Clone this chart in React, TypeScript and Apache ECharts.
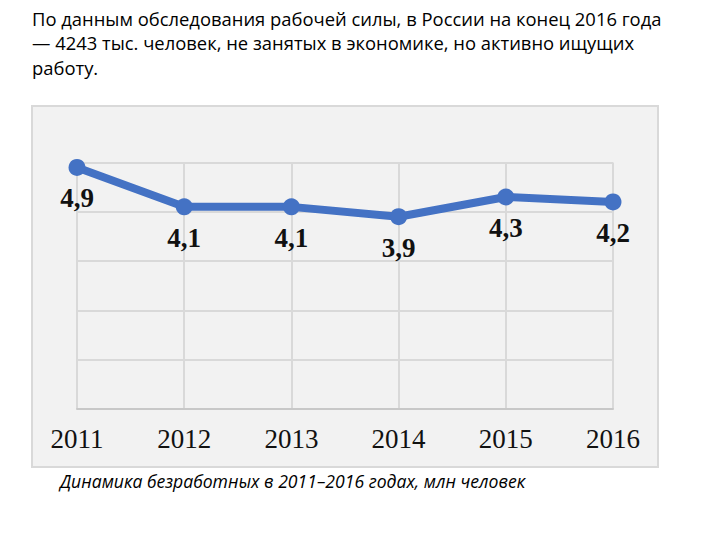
import React, { useEffect, useRef } from "react";
import * as echarts from "echarts";

const years = ["2011", "2012", "2013", "2014", "2015", "2016"];
const unemployed = [4.9, 4.1, 4.1, 3.9, 4.3, 4.2];
const titleLines = [
  "По данным обследования рабочей силы, в России на конец 2016 года",
  "— 4243 тыс. человек, не занятых в экономике, но активно ищущих",
  "работу.",
];
const caption = "Динамика безработных в 2011–2016 годах, млн человек";

export default function App() {
  const ref = useRef<HTMLDivElement>(null);
  useEffect(() => {
    if (!ref.current) return;
    const chart = echarts.init(ref.current, undefined, { renderer: "svg" });
    const titleGraphics = titleLines.map((t, i) => ({
      type: "text",
      left: 32,
      top: 9 + i * 24.5,
      style: {
        text: t,
        fontFamily: "Open Sans",
        fontSize: 18.4,
        fill: "#000",
      },
    }));
    chart.setOption({
      animation: false,
      backgroundColor: "#ffffff",
      graphic: [
        {
          type: "rect",
          z: -10,
          silent: true,
          shape: { x: 32, y: 106, width: 626, height: 361 },
          style: { fill: "#f2f2f2", stroke: "#d9d9d9", lineWidth: 2 },
        },
        ...titleGraphics,
        {
          type: "text",
          left: 60,
          top: 472,
          style: {
            text: caption,
            fontFamily: "Open Sans",
            fontStyle: "italic",
            fontSize: 17.6,
            fill: "#000",
          },
        },
      ],
      grid: { left: 77, right: 107, top: 162.5, bottom: 131 },
      xAxis: {
        type: "category",
        data: years,
        boundaryGap: false,
        axisTick: { show: false },
        axisLine: { show: true, lineStyle: { color: "#c8c8c8", width: 2 } },
        splitLine: { show: true, lineStyle: { color: "#d9d9d9", width: 2 } },
        axisLabel: {
          color: "#111",
          fontFamily: "Liberation Serif",
          fontSize: 27,
          margin: 16,
        },
      },
      yAxis: {
        type: "value",
        min: 0,
        max: 5,
        interval: 1,
        axisLabel: { show: false },
        axisLine: { show: false },
        axisTick: { show: false },
        splitLine: { show: true, lineStyle: { color: "#d9d9d9", width: 2 } },
      },
      series: [
        {
          type: "line",
          data: unemployed,
          symbol: "circle",
          symbolSize: 17,
          lineStyle: { color: "#4472c4", width: 8 },
          itemStyle: { color: "#4472c4" },
          label: {
            show: true,
            position: "bottom",
            distance: 9,
            formatter: (p: any) => String(p.value).replace(".", ","),
            fontFamily: "Liberation Serif",
            fontWeight: "bold",
            fontSize: 27,
            color: "#111",
          },
        },
      ],
    });
    return () => chart.dispose();
  }, []);
  return (
    <div
      ref={ref}
      style={{ position: "absolute", left: 0, top: 0, width: 720, height: 540 }}
    />
  );
}
